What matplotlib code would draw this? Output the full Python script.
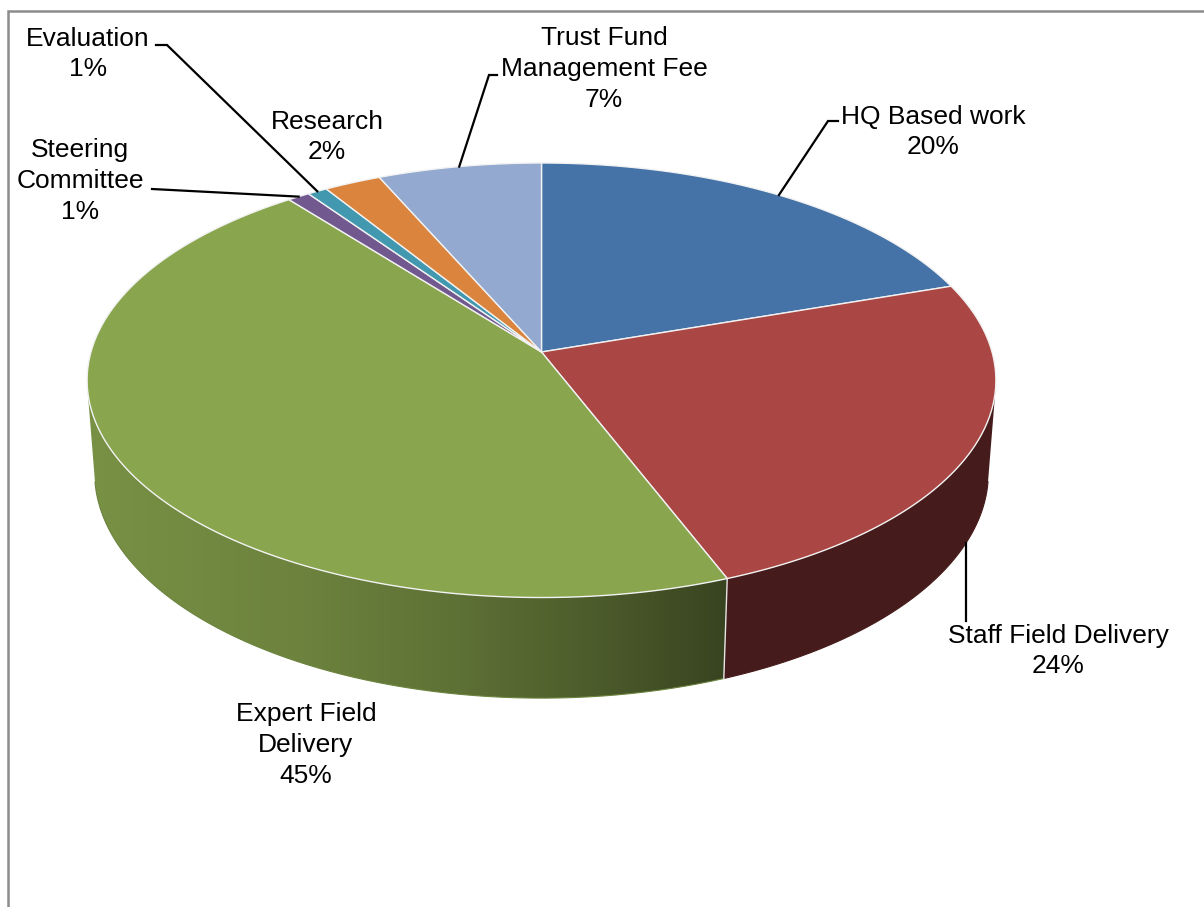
import numpy as np
import matplotlib
matplotlib.use("Agg")
import matplotlib.pyplot as plt
from matplotlib.patches import Polygon
from matplotlib.colors import to_rgb

# ---- data ----
categories = ["HQ Based work", "Staff Field Delivery", "Expert Field Delivery",
              "Steering Committee", "Evaluation", "Research",
              "Trust Fund Management Fee"]
values = [19.8, 24.3, 45.3, 0.9, 0.8, 2.3, 6.6]
label_texts = ["HQ Based work", "Staff Field Delivery", "Expert Field\nDelivery",
               "Steering\nCommittee", "Evaluation", "Research",
               "Trust Fund\nManagement Fee"]
colors = ["#4572A7", "#AA4643", "#89A54E", "#71588F", "#4198AF", "#DB843D", "#93A9CF"]

# ---- layout / projection parameters ----
W, Hpx = 1204, 907
ALPHA = np.radians(28.3)
S, C = np.sin(ALPHA), np.cos(ALPHA)
D = 6.77
F = 3050.0
CX, CY = 541.5, 352.0
DEPTH = 0.235
VIS = -1.0 / (D * C)  # side faces the camera where sin(phi) < VIS


def proj(phi_deg, h):
    p = np.radians(phi_deg)
    x = np.cos(p)
    z = np.sin(p)
    v = z * S + h * C
    w = D + z * C - h * S
    return CX + F * x / w, CY - F * v / w


def shade(xpix):
    xs = [87, 300, 450, 600, 727]
    fs = [0.88, 0.79, 0.69, 0.55, 0.41]
    return np.interp(xpix, xs, fs)


fig = plt.figure(figsize=(W / 100, Hpx / 100), dpi=100)
ax = fig.add_axes([0, 0, 1, 1])
ax.set_xlim(0, W)
ax.set_ylim(Hpx, 0)
ax.axis("off")

total = float(sum(values))
fracs = [v / total for v in values]
cum = np.concatenate([[0.0], np.cumsum(fracs)])
starts = 90 - 360 * cum[:-1]
ends = 90 - 360 * cum[1:]

# ---- side faces (gradient-filled, clipped to side outline) ----
xgrid = np.arange(0, W + 1, 1.0)
for i in range(len(values)):
    a0, a1 = starts[i], ends[i]
    n = max(3, int(abs(a0 - a1) / 0.1) + 2)
    phis = np.linspace(a0, a1, n)
    vis = np.sin(np.radians(phis)) < VIS
    if vis.sum() < 2:
        continue
    ph = phis[vis]
    tx, ty = proj(ph, 0)
    bx, by = proj(ph, -DEPTH)
    pts = list(zip(tx, ty)) + list(zip(bx[::-1], by[::-1]))
    base = np.array(to_rgb(colors[i]))
    row = np.clip(base[None, :] * shade(xgrid)[:, None], 0, 1)
    img = np.repeat(row[None, :, :], 2, axis=0)
    poly = Polygon(pts, closed=True, facecolor="none", edgecolor="none")
    ax.add_patch(poly)
    im = ax.imshow(img, extent=(0, W, Hpx, 0), aspect="auto",
                   interpolation="bilinear", zorder=1)
    im.set_clip_path(poly)
    # outline along the bottom / silhouette for a smooth anti-aliased edge
    ecol = np.clip(base * shade(np.median(bx)), 0, 1)
    ax.plot(bx, by, color=ecol, lw=0.8, zorder=1.5)

# vertical light lines on visible side boundaries
for i in range(len(values) - 1):
    a = ends[i]
    if np.sin(np.radians(a)) < VIS:
        x0, y0 = proj(a, 0)
        x1, y1 = proj(a, -DEPTH)
        ax.plot([x0, x1], [y0, y1], color="#e6e6e6", lw=1.0, zorder=2)

# ---- top faces ----
for i in range(len(values)):
    a0, a1 = starts[i], ends[i]
    n = max(3, int(abs(a0 - a1) / 0.5) + 2)
    phis = np.linspace(a0, a1, n)
    xs, ys = proj(phis, 0)
    pts = [(CX, CY)] + list(zip(xs, ys))
    ax.add_patch(Polygon(pts, closed=True, facecolor=colors[i],
                         edgecolor="#f2f2f2", linewidth=1.0, zorder=3,
                         joinstyle="round"))

# ---- labels ----
label_pos = [(933, 132), (1058, 651), (306, 745), (80, 181),
             (88, 54), (327, 137), (604, 69)]
font = dict(fontsize=19, family=["Liberation Sans", "DejaVu Sans"],
            ha="center", va="center", linespacing=1.35, color="#000000", zorder=6)
for i in range(len(values)):
    pct = int(np.floor(fracs[i] * 100 + 0.5))
    ax.text(label_pos[i][0], label_pos[i][1], f"{label_texts[i]}\n{pct}%", **font)

# ---- leader lines ----
mids = 0.5 * (starts + ends)
lk = dict(color="black", lw=1.6, zorder=5, solid_joinstyle="miter")
# HQ
hx, hy = proj(mids[0], 0)
ax.plot([838, 828, hx], [121, 121, hy], **lk)
# Staff Field Delivery (from bottom of side)
sx, sy = proj(mids[1], -DEPTH)
ax.plot([sx, sx], [sy, 621], **lk)
# Steering Committee
tx_, ty_ = proj(mids[3], 0)
ax.plot([152, tx_], [189, ty_], **lk)
# Evaluation
ex, ey = proj(mids[4], 0)
ax.plot([156, 167, ex], [45, 45, ey], **lk)
# Trust Fund
fx, fy = proj(mids[6], 0)
ax.plot([497, 489, fx], [75, 75, fy], **lk)

# ---- frame ----
ax.plot([8, 8, W + 5], [Hpx + 5, 11, 11], color="#8c8c8c", lw=1.8, zorder=7,
        solid_joinstyle="miter")

fig.savefig("out.png", dpi=100)
